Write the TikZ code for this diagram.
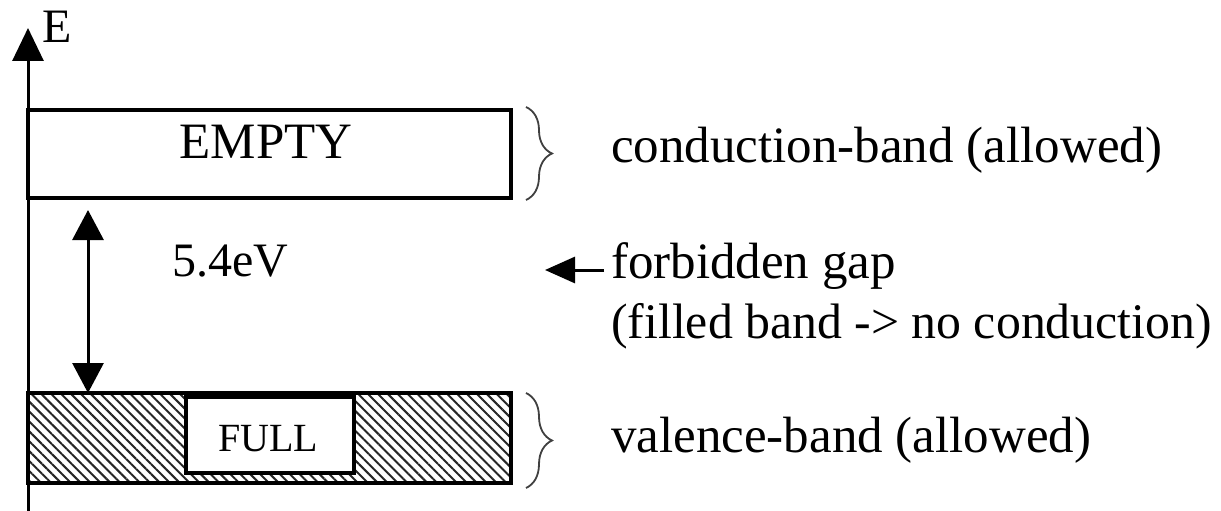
\documentclass[tikz,border=0pt]{standalone}
\usepackage{fontspec}
\setmainfont{Liberation Serif}
\usetikzlibrary{arrows.meta,patterns.meta,decorations.pathreplacing}
\begin{document}
\begin{tikzpicture}[x=1pt,y=-1pt,
  bigtext/.style={font=\fontsize{51}{60}\selectfont, inner sep=0pt},
  widetext/.style={font=\fontsize{49.8}{58}\selectfont, inner sep=0pt},
  midtext/.style={font=\fontsize{48}{56}\selectfont, inner sep=0pt},
  smalltext/.style={font=\fontsize{40}{48}\selectfont, inner sep=0pt},
  bandbox/.style={draw, line width=4pt},
  bracestyle/.style={draw=black!75, line width=1.8pt, decorate, decoration={brace, amplitude=26pt}},
  bigtip/.style={-{Triangle[width=31pt,length=33pt]}},
  dbltip/.style={{Triangle[width=31pt,length=30pt]}-{Triangle[width=31pt,length=30pt]}}
]
\useasboundingbox (0,0) rectangle (1221,511);
% bands
\coordinate (cbnw) at (28,110);
\coordinate (cbse) at (511,198);
\draw[bandbox] (cbnw) rectangle (cbse);
\coordinate (vbnw) at (28,393);
\coordinate (vbse) at (511,483);
\fill[pattern={Lines[angle=-45,distance=7pt,line width=2pt]}, pattern color=black!85] (vbnw) rectangle (vbse);
\draw[bandbox] (vbnw) rectangle (vbse);
\coordinate (fbnw) at (186,397);
\coordinate (fbse) at (354,473);
\draw[fill=white, line width=3.5pt] (fbnw) rectangle (fbse);
% axis
\coordinate (axbot) at (28,511);
\coordinate (axtop) at (28,28);
\draw[line width=3pt, bigtip] (axbot) -- (axtop);
\node[midtext, anchor=base west] (E) at (42,43) {E};
% labels in boxes
\node[bigtext] (empty) at (266,142) {EMPTY};
\node[smalltext] (full) at (268,439) {FULL};
% gap arrow
\coordinate (gtop) at (88,210);
\coordinate (gbot) at (88,393);
\draw[line width=3pt, dbltip] (gbot) -- (gtop);
\node[midtext] (gap) at (230,261) {5.4eV};
% braces
\coordinate (b1t) at (526,107);
\coordinate (b1b) at (526,200);
\draw[bracestyle] (b1t) -- (b1b);
\coordinate (b2t) at (526,393);
\coordinate (b2b) at (526,488);
\draw[bracestyle] (b2t) -- (b2b);
% right texts
\node[bigtext, anchor=west] (cond) at (611,150) {conduction-band (allowed)};
\node[bigtext, anchor=west] (forb) at (611,266) {forbidden gap};
\node[widetext, anchor=west] (fill) at (611,326) {(filled band -> no conduction)};
\node[bigtext, anchor=west] (val) at (611,440) {valence-band (allowed)};
\coordinate (fstart) at (604,270);
\coordinate (ftip) at (545,270);
\draw[line width=3pt, -{Triangle[width=26pt,length=30pt]}] (fstart) -- (ftip);
\end{tikzpicture}
\end{document}
